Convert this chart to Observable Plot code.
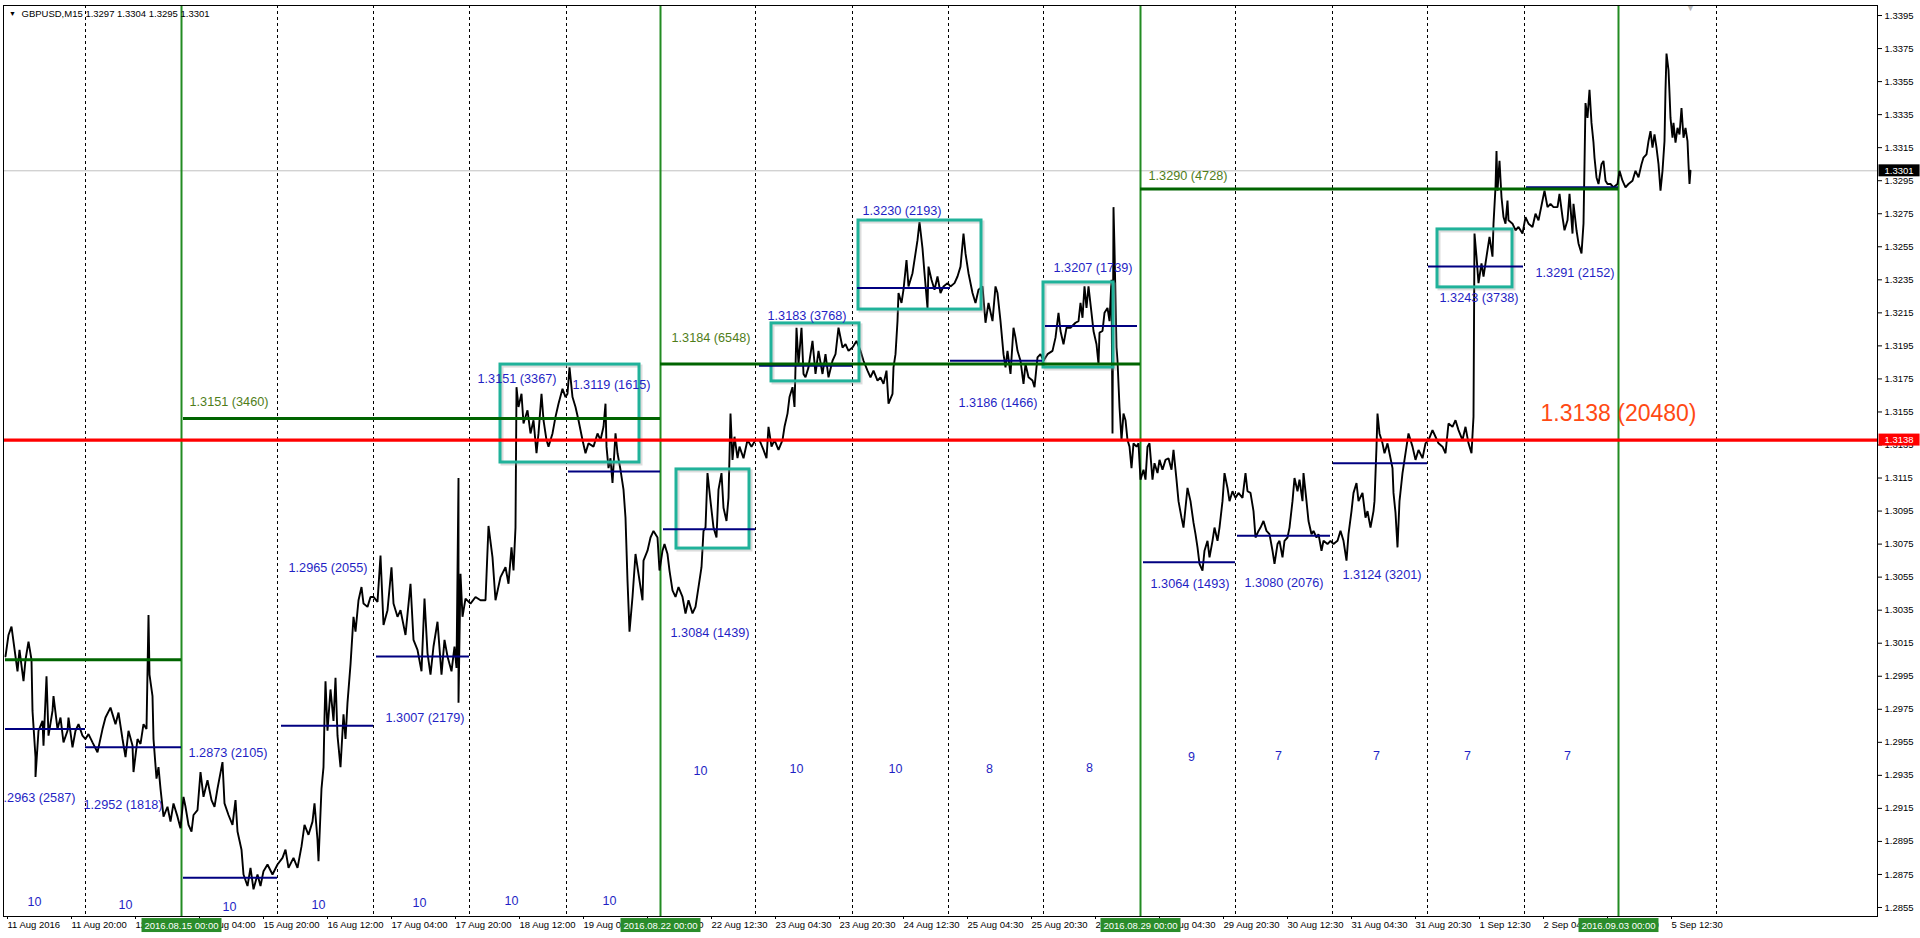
<!DOCTYPE html>
<html><head><meta charset="utf-8">
<script src="https://cdn.jsdelivr.net/npm/d3@7"></script>
<script src="https://cdn.jsdelivr.net/npm/@observablehq/plot@0.6"></script>
<style>
html,body{margin:0;padding:0;background:#fff;}
#chart{position:relative;width:1920px;height:938px;overflow:hidden;}
</style></head><body><div id="chart"></div>
<script>
// ---------- data ----------
const symbolTitle = "GBPUSD,M15";
const lastQuote = ["1.3297", "1.3304", "1.3295", "1.3301"];
const lastPrice = 1.3301;

// [bar index (M15), price]
const pricePath = [
[0,1.3007],[3,1.3020],[6,1.3025],[8,1.3016],[12,1.2998],[14,1.3011],[18,1.2992],[20,1.3005],[23,1.3016],[26,1.3005],[27,1.2974],[30,1.2946],[30,1.2934],[33,1.2962],[37,1.2968],[38,1.2953],[41,1.2995],[43,1.2959],[47,1.2974],[48,1.2983],[52,1.2963],[55,1.2970],[58,1.2955],[62,1.2962],[63,1.2970],[67,1.2952],[70,1.2962],[73,1.2966],[77,1.2959],[80,1.2957],[83,1.2960],[87,1.2955],[92,1.2949],[97,1.2963],[100,1.2970],[105,1.2976],[110,1.2966],[113,1.2973],[117,1.2957],[120,1.2946],[123,1.2962],[127,1.2953],[128,1.2937],[132,1.2957],[135,1.2954],[138,1.2966],[141,1.2963],[143,1.3032],[144,1.2996],[147,1.2983],[148,1.2957],[151,1.2933],[153,1.2940],[155,1.2927],[158,1.2910],[162,1.2916],[165,1.2907],[168,1.2918],[172,1.2910],[175,1.2903],[178,1.2922],[180,1.2916],[183,1.2905],[186,1.2901],[188,1.2911],[192,1.2914],[195,1.2937],[198,1.2922],[202,1.2932],[206,1.2920],[209,1.2916],[212,1.2927],[217,1.2943],[219,1.2918],[223,1.2911],[227,1.2905],[230,1.2920],[232,1.2901],[236,1.2890],[238,1.2875],[242,1.2868],[245,1.2879],[248,1.2866],[252,1.2875],[255,1.2868],[258,1.2877],[262,1.2881],[267,1.2875],[272,1.2881],[277,1.2885],[280,1.2890],[283,1.2879],[288,1.2885],[292,1.2879],[296,1.2892],[299,1.2905],[303,1.2899],[307,1.2907],[309,1.2918],[312,1.2896],[313,1.2883],[316,1.2927],[318,1.2940],[319,1.2970],[320,1.2992],[322,1.2962],[325,1.2987],[328,1.2968],[330,1.2994],[332,1.2959],[335,1.2940],[338,1.2972],[340,1.2957],[342,1.2979],[345,1.3002],[348,1.3031],[350,1.3022],[353,1.3041],[356,1.3049],[358,1.3039],[362,1.3037],[365,1.3043],[368,1.3043],[372,1.3040],[375,1.3068],[378,1.3026],[382,1.3035],[386,1.3061],[388,1.3039],[392,1.3031],[395,1.3035],[400,1.3020],[405,1.3051],[408,1.3017],[412,1.3011],[416,1.2998],[419,1.3042],[422,1.3009],[425,1.2996],[428,1.3013],[432,1.3028],[436,1.2996],[439,1.3017],[442,1.3007],[446,1.2998],[449,1.3013],[451,1.3000],[453,1.3115],[453,1.2979],[455,1.3057],[457,1.3031],[460,1.3042],[465,1.3039],[470,1.3043],[475,1.3041],
[480,1.3041],[483,1.3086],[487,1.3067],[490,1.3041],[495,1.3055],[500,1.3061],[503,1.3051],[506,1.3073],[508,1.3059],[510,1.3085],[511,1.3170],[513,1.3158],[516,1.3166],[518,1.3148],[522,1.3156],[525,1.3142],[528,1.3150],[531,1.3130],[533,1.3142],[536,1.3166],[538,1.3150],[541,1.3138],[543,1.3134],[547,1.3142],[550,1.3152],[553,1.3160],[557,1.3169],[560,1.3164],[562,1.3166],[564,1.3182],[567,1.3164],[570,1.3158],[573,1.3150],[577,1.3138],[580,1.3130],[583,1.3136],[588,1.3134],[592,1.3142],[595,1.3138],[598,1.3146],[600,1.3160],[601,1.3134],[603,1.3121],[605,1.3127],[607,1.3112],[610,1.3142],[612,1.3130],[615,1.3120],[618,1.3108],[620,1.3091],[622,1.3053],[624,1.3022],[627,1.3043],[630,1.3069],[633,1.3057],[637,1.3041],[638,1.3065],[642,1.3071],[645,1.3079],[648,1.3083],[652,1.3079],[654,1.3059],[657,1.3071],[659,1.3075],[662,1.3069],[664,1.3059],[667,1.3047],[670,1.3043],[673,1.3049],[677,1.3043],[680,1.3033],[683,1.3041],[687,1.3033],[690,1.3037],[693,1.3049],[696,1.3061],[698,1.3083],[700,1.3085],[702,1.3118],[705,1.3101],[708,1.3085],[711,1.3079],[713,1.3108],[716,1.3118],[718,1.3097],[721,1.3089],[723,1.3103],[725,1.3154],[727,1.3126],[729,1.3140],[732,1.3127],[734,1.3134],[738,1.3127],[742,1.3138],[746,1.3134],[750,1.3138],[754,1.3138],[758,1.3132],[761,1.3127],[763,1.3146],[766,1.3134],[769,1.3138],[773,1.3132],[777,1.3138],[779,1.3146],[782,1.3154],[784,1.3164],[787,1.3170],[789,1.3158],[791,1.3206],[793,1.3184],[796,1.3206],[798,1.3178],[800,1.3176],[803,1.3182],[807,1.3198],[810,1.3178],[813,1.3192],[817,1.3178],[820,1.3190],[823,1.3176],[827,1.3186],[830,1.3190],[833,1.3206],[837,1.3194],[840,1.3196],[843,1.3192],[847,1.3194],[851,1.3198],[855,1.3192],[858,1.3186],[862,1.3180],[865,1.3176],[868,1.3180],[872,1.3174],[875,1.3176],[878,1.3172],[881,1.3180],[883,1.3160],[887,1.3166],[888,1.3182],[890,1.3190],[892,1.3210],[893,1.3227],[896,1.3221],[898,1.3229],[901,1.3247],[903,1.3231],[907,1.3239],[910,1.3251],[912,1.3259],[914,1.3270],[917,1.3254],[919,1.3239],[922,1.3218],[923,1.3243],[926,1.3235],[929,1.3229],[932,1.3237],[935,1.3227],[938,1.3231],[942,1.3233],[945,1.3231],[949,1.3233],[952,1.3237],[955,1.3243],[958,1.3263],[960,1.3251],[963,1.3239],[967,1.3227],[970,1.3221],[973,1.3229],[977,1.3231],[980,1.3209],[983,1.3221],[987,1.3210],[990,1.3231],[992,1.3227],[995,1.3210],[998,1.3190],[1000,1.3182],[1002,1.3192],[1005,1.3178],[1008,1.3206],[1010,1.3200],[1012,1.3192],[1015,1.3186],[1018,1.3172],[1020,1.3184],[1023,1.3176],[1027,1.3174],[1029,1.3170],[1032,1.3188],[1035,1.3190],[1038,1.3186],[1042,1.3190],[1047,1.3192],[1050,1.3200],[1053,1.3215],[1055,1.3204],[1058,1.3196],[1061,1.3206],[1065,1.3206],[1070,1.3209],[1073,1.3210],[1075,1.3221],[1077,1.3212],[1079,1.3231],[1081,1.3218],[1083,1.3231],[1086,1.3215],[1088,1.3204],[1091,1.3196],[1093,1.3184],[1094,1.3203],[1097,1.3204],[1099,1.3215],[1102,1.3218],[1104,1.3210],[1106,1.3235],[1107,1.3142],[1108,1.3279],[1109,1.3254],[1111,1.3194],[1112,1.3186],[1114,1.3158],[1116,1.3138],[1118,1.3154],[1120,1.3150],[1122,1.3138],[1124,1.3134],[1126,1.3121],[1128,1.3136],[1131,1.3134],[1133,1.3136],[1135,1.3114],[1138,1.3120],[1140,1.3114],[1142,1.3134],[1144,1.3136],[1147,1.3114],[1149,1.3124],[1152,1.3118],[1154,1.3126],[1157,1.3120],[1160,1.3126],[1163,1.3127],[1166,1.3120],[1168,1.3132],[1171,1.3114],[1173,1.3101],[1176,1.3091],[1178,1.3085],[1180,1.3097],[1182,1.3109],[1185,1.3101],[1188,1.3088],[1190,1.3081],[1192,1.3073],[1194,1.3063],[1197,1.3059],[1199,1.3071],[1202,1.3077],[1204,1.3067],[1207,1.3077],[1209,1.3085],[1212,1.3077],[1214,1.3085],[1217,1.3101],[1219,1.3118],[1222,1.3109],[1224,1.3101],[1227,1.3107],[1230,1.3103],[1233,1.3106],[1237,1.3103],[1240,1.3118],[1242,1.3107],[1245,1.3106],[1248,1.3095],[1250,1.3079],[1253,1.3083],[1255,1.3085],[1258,1.3089],[1261,1.3083],[1264,1.3081],[1267,1.3071],[1269,1.3063],[1272,1.3075],[1274,1.3077],[1277,1.3067],[1279,1.3077],[1282,1.3079],[1284,1.3085],[1287,1.3101],[1289,1.3115],[1292,1.3107],[1294,1.3114],[1297,1.3101],[1298,1.3118],[1301,1.3101],[1303,1.3089],[1306,1.3081],[1308,1.3083],[1311,1.3079],[1313,1.3081],[1316,1.3071],[1318,1.3077],[1322,1.3075],[1325,1.3077],[1328,1.3075],[1332,1.3077],[1335,1.3083],[1338,1.3077],[1341,1.3065],[1343,1.3081],[1346,1.3095],[1348,1.3106],[1351,1.3112],[1353,1.3101],[1357,1.3106],[1360,1.3091],[1362,1.3095],[1365,1.3085],[1368,1.3095],[1369,1.3101],[1371,1.3134],[1372,1.3154],[1374,1.3142],[1377,1.3136],[1379,1.3130],[1382,1.3136],[1384,1.3130],[1387,1.3121],[1388,1.3106],[1390,1.3094],[1392,1.3073],[1394,1.3101],[1397,1.3118],[1403,1.3142],[1407,1.3134],[1410,1.3126],[1413,1.3132],[1417,1.3127],[1420,1.3136],[1423,1.3138],[1427,1.3144],[1430,1.3140],[1433,1.3136],[1437,1.3134],[1440,1.3130],[1443,1.3148],[1447,1.3146],[1450,1.3150],[1453,1.3144],[1457,1.3138],[1460,1.3146],[1463,1.3136],[1466,1.3130],[1468,1.3152],[1469,1.3263],[1471,1.3249],[1473,1.3233],[1476,1.3245],[1478,1.3237],[1480,1.3245],[1482,1.3253],[1484,1.3261],[1487,1.3249],[1488,1.3269],[1490,1.3291],[1491,1.3313],[1492,1.3289],[1494,1.3307],[1496,1.3285],[1498,1.3273],[1500,1.3269],[1502,1.3283],[1503,1.3271],[1507,1.3269],[1510,1.3265],[1513,1.3267],[1517,1.3263],[1520,1.3273],[1523,1.3269],[1527,1.3267],[1530,1.3275],[1533,1.3271],[1537,1.3283],[1539,1.3289],[1542,1.3279],[1545,1.3281],[1548,1.3279],[1552,1.3279],[1554,1.3287],[1557,1.3273],[1559,1.3265],[1562,1.3271],[1564,1.3287],[1567,1.3263],[1568,1.3281],[1571,1.3265],[1573,1.3257],[1576,1.3251],[1578,1.3269],[1579,1.3305],[1580,1.3342],[1582,1.3333],[1584,1.3350],[1586,1.3330],[1588,1.3318],[1589,1.3309],[1591,1.3297],[1593,1.3293],[1596,1.3305],[1598,1.3307],[1600,1.3295],[1602,1.3293],[1605,1.3293],[1608,1.3291],[1612,1.3293],[1614,1.3301],[1617,1.3295],[1620,1.3291],[1623,1.3293],[1627,1.3295],[1630,1.3301],[1633,1.3297],[1636,1.3305],[1638,1.3309],[1641,1.3311],[1643,1.3319],[1645,1.3325],[1647,1.3315],[1649,1.3323],[1651,1.3315],[1653,1.3305],[1655,1.3289],[1657,1.3301],[1659,1.3319],[1660,1.3350],[1661,1.3372],[1663,1.3362],[1664,1.3348],[1665,1.3333],[1667,1.3321],[1668,1.3330],[1670,1.3318],[1672,1.3327],[1674,1.3323],[1676,1.3339],[1678,1.3321],[1680,1.3327],[1682,1.3319],[1683,1.3305],[1684,1.3293],[1685,1.3301]
];

const priceTicks = [1.2855,1.2875,1.2895,1.2915,1.2935,1.2955,1.2975,1.2995,1.3015,1.3035,1.3055,1.3075,1.3095,1.3115,1.3135,1.3155,1.3175,1.3195,1.3215,1.3235,1.3255,1.3275,1.3295,1.3315,1.3335,1.3355,1.3375,1.3395];

const timeTicks = [0,64,128,192,256,320,384,448,512,576,640,704,768,832,896,960,1024,1088,1152,1216,1280,1344,1408,1472,1536,1600,1664];
const timeLabels = ["11 Aug 2016","11 Aug 20:00","12 Aug 12:00","15 Aug 04:00","15 Aug 20:00","16 Aug 12:00","17 Aug 04:00","17 Aug 20:00","18 Aug 12:00","19 Aug 04:00","19 Aug 20:00","22 Aug 12:30","23 Aug 04:30","23 Aug 20:30","24 Aug 12:30","25 Aug 04:30","25 Aug 20:30","26 Aug 12:30","29 Aug 04:30","29 Aug 20:30","30 Aug 12:30","31 Aug 04:30","31 Aug 20:30","1 Sep 12:30","2 Sep 04:30","2 Sep 20:30","5 Sep 12:30"];

const daySeparators = [80,272,368,464,561,750,847,943,1038,1230,1327,1422,1519,1711];
const weekStarts = [176,655,1135,1613];
const weekStartLabels = ["2016.08.15 00:00","2016.08.22 00:00","2016.08.29 00:00","2016.09.03 00:00"];

const dailyLevels = [
  {from:0,to:80,price:1.2963,count:2587},
  {from:80,to:176,price:1.2952,count:1818},
  {from:178,to:272,price:1.2873,count:2105},
  {from:276,to:368,price:1.2965,count:2055},
  {from:371,to:464,price:1.3007,count:2179},
  {from:465,to:561,price:1.3151,count:3367},
  {from:563,to:655,price:1.3119,count:1615},
  {from:658,to:750,price:1.3084,count:1439},
  {from:754,to:847,price:1.3183,count:3768},
  {from:852,to:945,price:1.3230,count:2193},
  {from:945,to:1037,price:1.3186,count:1466},
  {from:1040,to:1132,price:1.3207,count:1739},
  {from:1138,to:1230,price:1.3064,count:1493},
  {from:1232,to:1325,price:1.3080,count:2076},
  {from:1328,to:1422,price:1.3124,count:3201},
  {from:1423,to:1518,price:1.3243,count:3738},
  {from:1521,to:1613,price:1.3291,count:2152}
];
const dailyLabelAt = [[-9,1.29216],[78,1.29174],[183,1.29483],[283,1.30608],[380,1.29700],[472,1.31752],[567,1.31716],[665,1.30215],[762,1.32134],[857,1.32769],[953,1.31607],[1048,1.32419],[1145,1.30511],[1239,1.30517],[1337,1.30566],[1434,1.32243],[1530,1.32389]];

const weeklyLevels = [
  {from:0,to:176,price:1.3005,count:null},
  {from:178,to:655,price:1.3151,count:3460},
  {from:655,to:1135,price:1.3184,count:6548},
  {from:1135,to:1613,price:1.3290,count:4728}
];
const weeklyLabelAt = [null,[184,1.31613],[666,1.31999],[1143,1.32976]];

const zones = [
  {from:495,to:634,top:1.31837,bottom:1.31244},
  {from:671,to:744,top:1.31202,bottom:1.30723},
  {from:766,to:854,top:1.32086,bottom:1.31735},
  {from:853,to:976,top:1.32709,bottom:1.32170},
  {from:1038,to:1108,top:1.32334,bottom:1.31819},
  {from:1432,to:1507,top:1.32655,bottom:1.32304}
];

const barCounts = [10,10,10,10,10,10,10,10,10,10,8,8,9,7,7,7,7];
const barCountAt = [[29,1.28586],[120,1.28568],[224,1.28556],[313,1.28568],[414,1.28580],[506,1.28592],[604,1.28592],[695,1.29374],[791,1.29386],[890,1.29386],[984,1.29386],[1084,1.29392],[1186,1.29459],[1273,1.29465],[1371,1.29465],[1462,1.29465],[1562,1.29465]];

const keyLevel = {price:1.3138, count:20480};
const keyLabelAt = [1535, 1.31539];

// ---------- derived tables ----------
const font = "'Liberation Sans', Arial, Helvetica, sans-serif";
const timeLabelMap = new Map(timeTicks.map((t, i) => [t, timeLabels[i]]));
const dailyText = dailyLevels.map((d, i) => ({bar: dailyLabelAt[i][0], price: dailyLabelAt[i][1], text: `${d.price.toFixed(4)} (${d.count})`}));
const weeklyText = weeklyLevels.map((d, i) => weeklyLabelAt[i] ? ({bar: weeklyLabelAt[i][0], price: weeklyLabelAt[i][1], text: `${d.price.toFixed(4)} (${d.count})`}) : null).filter(Boolean);
const countText = barCounts.map((c, i) => ({bar: barCountAt[i][0], price: barCountAt[i][1], text: String(c)}));
const weekText = weekStarts.map((b, i) => ({bar: b, text: weekStartLabels[i]}));
const lastBar = pricePath[pricePath.length - 1][0];

const plot = Plot.plot({
  width: 1920, height: 938,
  marginLeft: 3, marginRight: 43, marginTop: 5, marginBottom: 22,
  style: {fontFamily: font, background: "#fff", color: "#000"},
  x: {type: "linear", domain: [-2, 1872]},
  y: {type: "linear", domain: [1.284955, 1.340107]},
  marks: [
    Plot.ruleY([lastPrice], {stroke: "#c0c0c0", strokeWidth: 1}),
    Plot.ruleX(daySeparators, {stroke: "#000", strokeWidth: 1, strokeDasharray: "3,3"}),
    Plot.ruleX(weekStarts, {stroke: "#228b22", strokeWidth: 2}),
    Plot.line(pricePath, {x: d => d[0], y: d => d[1], stroke: "#000", strokeWidth: 1.9, strokeLinejoin: "miter"}),
    Plot.rect(zones, {x1: "from", x2: "to", y1: "bottom", y2: "top", fill: "none", stroke: "#9a9a9a", strokeOpacity: 0.35, strokeWidth: 3, dx: 2, dy: 2}),
    Plot.rect(zones, {x1: "from", x2: "to", y1: "bottom", y2: "top", fill: "none", stroke: "#20b29a", strokeWidth: 3}),
    Plot.ruleY(dailyLevels, {x1: "from", x2: "to", y: "price", stroke: "#000080", strokeWidth: 2}),
    Plot.ruleY(weeklyLevels, {x1: "from", x2: "to", y: "price", stroke: "#006400", strokeWidth: 3}),
    Plot.ruleY([keyLevel.price], {stroke: "#ff0000", strokeWidth: 3.2}),
    Plot.text(dailyText, {x: "bar", y: "price", text: "text", textAnchor: "start", fill: "#1f1fc4", fontSize: 12.7, clip: true}),
    Plot.text(weeklyText, {x: "bar", y: "price", text: "text", textAnchor: "start", fill: "#4f7d19", fontSize: 12.7}),
    Plot.text(countText, {x: "bar", y: "price", text: "text", textAnchor: "middle", fill: "#1f1fc4", fontSize: 12.5}),
    Plot.text([`${keyLevel.price.toFixed(4)} (${keyLevel.count})`], {x: () => keyLabelAt[0], y: () => keyLabelAt[1], text: d => d, textAnchor: "start", fill: "#ff4a14", fontSize: 23}),
    Plot.text([[symbolTitle, ...lastQuote].join(" ")], {frameAnchor: "top-left", dx: 18, dy: 8, textAnchor: "start", lineAnchor: "middle", fontSize: 9.5, fill: "#000"}),
    Plot.text(["▼"], {frameAnchor: "top-left", dx: 9, dy: 8, textAnchor: "middle", lineAnchor: "middle", fontSize: 7, fill: "#000"}),
    Plot.text([lastBar], {x: d => d, frameAnchor: "top", text: () => "▼", lineAnchor: "top", dy: -1, fontSize: 9, fill: "#b8b8b8"}),
    Plot.frame({stroke: "#000", strokeWidth: 1}),
    Plot.axisY(priceTicks, {anchor: "right", tickSize: 4, tickPadding: 3, tickFormat: d => d.toFixed(4), fontSize: 9.5, label: null}),
    Plot.axisX(timeTicks, {anchor: "bottom", tickSize: 3, tickPadding: 2, tickFormat: d => timeLabelMap.get(d), textAnchor: "start", dx: 2, fontSize: 9.5, label: null}),
    Plot.text([lastPrice], {y: d => d, frameAnchor: "right", text: d => d.toFixed(4), textAnchor: "start", dx: 7, fontSize: 9.5, fill: "#fff"}),
    Plot.text([keyLevel.price], {y: d => d, frameAnchor: "right", text: d => d.toFixed(4), textAnchor: "start", dx: 7, fontSize: 9.5, fill: "#fff"}),
    Plot.text(weekText, {x: "bar", frameAnchor: "bottom", text: "text", textAnchor: "middle", lineAnchor: "middle", dy: 9, fontSize: 9.5, fill: "#fff"})
  ]
});
document.getElementById("chart").append(plot);

// background boxes behind label texts (sized to the rendered text)
function boxBehind(strings, fill, padL, padR, padY) {
  const svgNS = "http://www.w3.org/2000/svg";
  d3.select(plot).selectAll("text").filter(function () {
    return strings.includes(this.textContent) && (this.getAttribute("fill") === "#fff" || d3.select(this.parentNode).attr("fill") === "#fff");
  }).each(function () {
    const b = this.getBBox();
    const r = document.createElementNS(svgNS, "rect");
    r.setAttribute("x", b.x - padL);
    r.setAttribute("y", b.y - padY);
    r.setAttribute("width", b.width + padL + padR);
    r.setAttribute("height", b.height + 2 * padY);
    r.setAttribute("fill", fill);
    r.setAttribute("stroke", "none");
    const t = this.getAttribute("transform");
    if (t) r.setAttribute("transform", t);
    this.parentNode.insertBefore(r, this);
  });
}
boxBehind([lastPrice.toFixed(4)], "#000", 6, 6, 0.5);
boxBehind([keyLevel.price.toFixed(4)], "#ff0000", 6, 6, 0.5);
boxBehind(weekStartLabels, "#2a8c2a", 3, 3, 1.5);
</script>
</body></html>
